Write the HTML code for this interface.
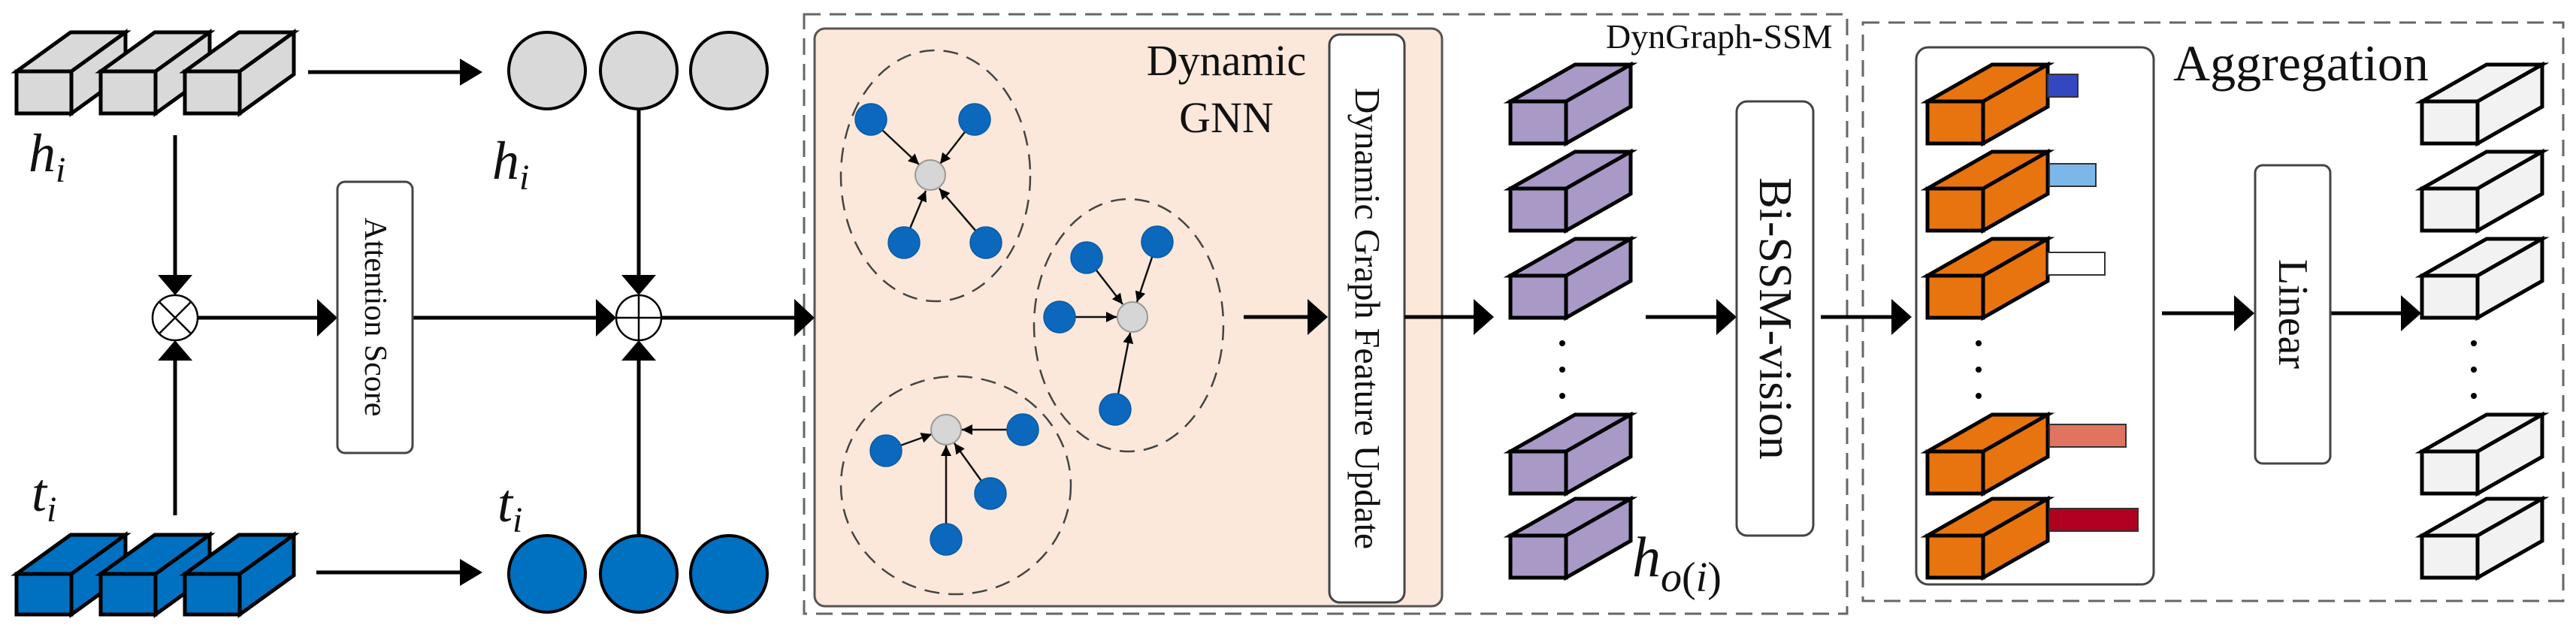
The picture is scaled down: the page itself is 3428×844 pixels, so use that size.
<!DOCTYPE html>
<html><head><meta charset="utf-8"><style>
html,body{margin:0;padding:0;background:#fff;}
svg{display:block;font-family:"Liberation Serif",serif;}
svg text{font-family:"Liberation Serif",serif;fill:#111;}
</style></head><body>
<svg width="3428" height="844" viewBox="0 0 3428 844" xmlns="http://www.w3.org/2000/svg" font-family="Liberation Serif, serif">
<defs>
<marker id="sa" viewBox="0 0 10 10" refX="10" refY="5" markerWidth="14" markerHeight="14" markerUnits="userSpaceOnUse" orient="auto"><path d="M0,0 L10,5 L0,10 z" fill="#000"/></marker>
</defs>

<rect x="1070" y="19" width="1388" height="798" fill="none" stroke="#666" stroke-width="3" stroke-dasharray="22,12"/>
<rect x="2479" y="30" width="932" height="770" fill="none" stroke="#666" stroke-width="3" stroke-dasharray="22,12"/>

<rect x="1084" y="38" width="835" height="769" rx="14" fill="#fbe8da" stroke="#555" stroke-width="3"/>
<text x="1632" y="100" font-size="58" text-anchor="middle" font-family="Liberation Serif, serif">Dynamic</text>
<text x="1632" y="176" font-size="58" text-anchor="middle" font-family="Liberation Serif, serif">GNN</text>
<rect x="1769" y="46" width="100" height="756" rx="14" fill="#fff" stroke="#444" stroke-width="3"/>
<text transform="translate(1819,424) rotate(90)" font-size="48" text-anchor="middle" dominant-baseline="central" font-family="Liberation Serif, serif">Dynamic Graph Feature Update</text>

<g fill="none" stroke="#444" stroke-width="2.5" stroke-dasharray="20,12">
<ellipse cx="1245" cy="234" rx="126" ry="167"/>
<ellipse cx="1502" cy="433" rx="126" ry="168"/>
<ellipse cx="1272" cy="646" rx="153" ry="145"/>
</g>
<g stroke="#111" stroke-width="2.5" marker-end="url(#sa)">
<line x1="1159" y1="159" x2="1223" y2="219"/>
<line x1="1297" y1="159" x2="1251" y2="218"/>
<line x1="1203" y1="323" x2="1232" y2="254"/>
<line x1="1312" y1="323" x2="1250" y2="251"/>
<line x1="1446" y1="343" x2="1494" y2="405"/>
<line x1="1540" y1="322" x2="1513" y2="402"/>
<line x1="1410" y1="422" x2="1486" y2="422"/>
<line x1="1484" y1="545" x2="1504" y2="443"/>
<line x1="1179" y1="600" x2="1240" y2="578"/>
<line x1="1361" y1="572" x2="1280" y2="572"/>
<line x1="1318" y1="657" x2="1270" y2="590"/>
<line x1="1259" y1="718" x2="1259" y2="593"/>
</g>
<g fill="#0b68bd" stroke="#0a5aa5" stroke-width="1.5">
<circle cx="1159" cy="159" r="21"/><circle cx="1297" cy="159" r="21"/><circle cx="1203" cy="323" r="21"/><circle cx="1312" cy="323" r="21"/>
<circle cx="1446" cy="343" r="21"/><circle cx="1540" cy="322" r="21"/><circle cx="1410" cy="422" r="21"/><circle cx="1484" cy="545" r="21"/>
<circle cx="1179" cy="600" r="21"/><circle cx="1361" cy="572" r="21"/><circle cx="1318" cy="657" r="21"/><circle cx="1259" cy="718" r="21"/>
</g>
<g fill="#d6d6d6" stroke="#999" stroke-width="2">
<circle cx="1238" cy="233" r="20"/><circle cx="1507" cy="422" r="20"/><circle cx="1259" cy="572" r="20"/>
</g>

<g id="cubes" stroke="#000" stroke-width="5" stroke-linejoin="miter"></g>

<g stroke="#000" stroke-width="4">
<circle cx="728" cy="94" r="51" fill="#d9d9d9"/><circle cx="850" cy="94" r="51" fill="#d9d9d9"/><circle cx="970" cy="94" r="51" fill="#d9d9d9"/>
<circle cx="728" cy="764" r="51" fill="#0070c0"/><circle cx="850" cy="764" r="51" fill="#0070c0"/><circle cx="970" cy="764" r="51" fill="#0070c0"/>
</g>

<g stroke="#000" stroke-width="5" fill="none">
<line x1="410" y1="96" x2="615" y2="96"/>
<line x1="421" y1="762" x2="615" y2="762"/>
<line x1="233" y1="180" x2="233" y2="370"/>
<line x1="233" y1="686" x2="233" y2="478"/>
<line x1="850" y1="145" x2="850" y2="370"/>
<line x1="850" y1="713" x2="850" y2="478"/>
<line x1="263" y1="423" x2="425" y2="423"/>
<line x1="549" y1="423" x2="795" y2="423"/>
<line x1="880" y1="423" x2="1060" y2="423"/>
<line x1="1655" y1="422" x2="1742" y2="422"/>
<line x1="1869" y1="422" x2="1962" y2="422"/>
<line x1="2190" y1="422" x2="2285" y2="422"/>
<line x1="2423" y1="422" x2="2518" y2="422"/>
<line x1="2877" y1="417" x2="2974" y2="417"/>
<line x1="3101" y1="417" x2="3195" y2="417"/>
</g>
<g fill="#000">
<polygon points="642,96 612,78 612,114"/>
<polygon points="642,762 612,744 612,780"/>
<polygon points="233,393 210,366 256,366"/>
<polygon points="233,453 210,480 256,480"/>
<polygon points="850,393 827,366 873,366"/>
<polygon points="850,453 827,480 873,480"/>
<polygon points="449,423 422,398 422,448"/>
<polygon points="820,423 793,398 793,448"/>
<polygon points="1084,423 1057,398 1057,448"/>
<polygon points="1767,422 1740,398 1740,446"/>
<polygon points="1988,422 1961,398 1961,446"/>
<polygon points="2311,422 2284,398 2284,446"/>
<polygon points="2544,422 2517,398 2517,446"/>
<polygon points="3000,417 2973,393 2973,441"/>
<polygon points="3222,417 3195,393 3195,441"/>
</g>

<g stroke="#000" stroke-width="2.5" fill="#fff">
<circle cx="233" cy="423" r="30"/>
<line x1="212" y1="402" x2="254" y2="444"/><line x1="254" y1="402" x2="212" y2="444"/>
<circle cx="850" cy="423" r="30"/>
<line x1="820" y1="423" x2="880" y2="423"/><line x1="850" y1="393" x2="850" y2="453"/>
</g>

<rect x="449" y="242" width="100" height="361" rx="10" fill="#fff" stroke="#444" stroke-width="3"/>
<text transform="translate(499,422) rotate(90)" font-size="42" text-anchor="middle" dominant-baseline="central" font-family="Liberation Serif, serif">Attention Score</text>

<text x="38" y="228" font-size="72" font-style="italic" font-family="Liberation Serif, serif">h<tspan font-size="48" dy="14">i</tspan></text>
<text x="655" y="238" font-size="72" font-style="italic" font-family="Liberation Serif, serif">h<tspan font-size="48" dy="14">i</tspan></text>
<text x="42" y="680" font-size="72" font-style="italic" font-family="Liberation Serif, serif">t<tspan font-size="48" dy="14">i</tspan></text>
<text x="662" y="694" font-size="72" font-style="italic" font-family="Liberation Serif, serif">t<tspan font-size="48" dy="14">i</tspan></text>
<text x="2172" y="767" font-size="76" font-style="italic" font-family="Liberation Serif, serif">h<tspan font-size="56" dy="20">o</tspan><tspan font-size="56" font-style="normal">(</tspan><tspan font-size="56">i</tspan><tspan font-size="56" font-style="normal">)</tspan></text>
<text x="2137" y="64" font-size="46" font-family="Liberation Serif, serif">DynGraph-SSM</text>

<g fill="#000">
<circle cx="2079" cy="457" r="4"/><circle cx="2079" cy="492" r="4"/><circle cx="2079" cy="527" r="4"/>
<circle cx="2633" cy="457" r="4"/><circle cx="2633" cy="492" r="4"/><circle cx="2633" cy="527" r="4"/>
<circle cx="3292" cy="457" r="4"/><circle cx="3292" cy="492" r="4"/><circle cx="3292" cy="527" r="4"/>
</g>

<rect x="2311" y="135" width="102" height="578" rx="14" fill="#fff" stroke="#444" stroke-width="3"/>
<text transform="translate(2362,424) rotate(90)" font-size="62" text-anchor="middle" dominant-baseline="central" font-family="Liberation Serif, serif">Bi-SSM-vision</text>

<rect x="2550" y="63" width="316" height="715" rx="16" fill="none" stroke="#444" stroke-width="3"/>
<text x="2892" y="107" font-size="68" font-family="Liberation Serif, serif">Aggregation</text>
<g stroke="#333" stroke-width="2">
<rect x="2725" y="99" width="40" height="30" fill="#3347c2"/>
<rect x="2727" y="218" width="62" height="30" fill="#7cb7ea"/>
<rect x="2725" y="336" width="76" height="30" fill="#fff"/>
<rect x="2727" y="565" width="102" height="30" fill="#e0745e"/>
<rect x="2727" y="677" width="118" height="30" fill="#b0001f"/>
</g>
<rect x="3001" y="220" width="100" height="397" rx="10" fill="#fff" stroke="#444" stroke-width="3"/>
<text transform="translate(3051,418) rotate(90)" font-size="56" text-anchor="middle" dominant-baseline="central" font-family="Liberation Serif, serif">Linear</text>
</svg>
<script>
(function(){
var g=document.getElementById('cubes'),ns='http://www.w3.org/2000/svg';
function cube(x,y,w,h,dx,dy,c){
 var s=[[x,y,x+w,y,x+w+dx,y+dy,x+dx,y+dy],[x+w,y,x+w+dx,y+dy,x+w+dx,y+h+dy,x+w,y+h],[x,y,x+w,y,x+w,y+h,x,y+h]];
 s.forEach(function(p){var e=document.createElementNS(ns,'polygon');e.setAttribute('points',p.join(' '));e.setAttribute('fill',c);g.appendChild(e);});
}
[22,134,246].forEach(function(x){cube(x,95,73,56,72,-52,'#d9d9d9');cube(x,764,73,54,72,-52,'#0070c0');});
var ys=[135,251,367,601,713];
ys.forEach(function(y){cube(2010,y,74,56,86,-49,'#a899c6');cube(2565,y,74,56,86,-49,'#e8740f');cube(3223,y,74,56,86,-49,'#f2f2f2');});
})();
</script>
</body></html>
